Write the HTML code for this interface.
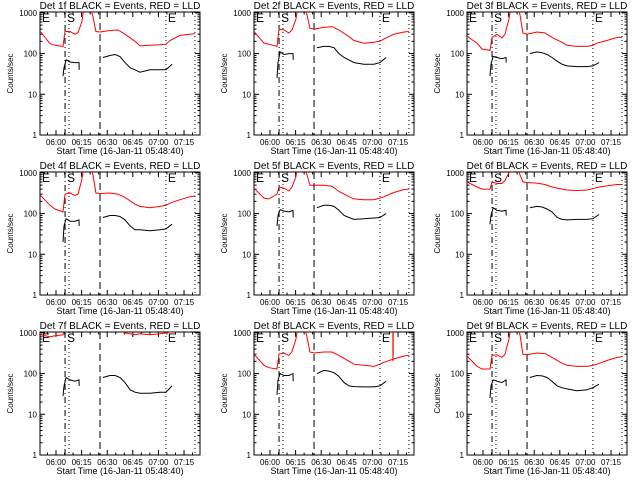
<!DOCTYPE html>
<html><head><meta charset="utf-8"><style>
html,body{margin:0;padding:0;background:#fff;}
svg{display:block;font-family:"Liberation Sans",sans-serif;}
</style></head><body>
<svg id="chart" width="640" height="480" viewBox="0 0 640 480" xmlns="http://www.w3.org/2000/svg">
<rect x="0" y="0" width="640" height="480" fill="#fff"/>
</svg>
<script>
const detNames = ["1f","2f","3f","4f","5f","6f","7f","8f","9f"];
const xTickLabels = ["06:00","06:15","06:30","06:45","07:00","07:15"];
const xTickMinutes = [0,15,30,45,60,75];
const yTickValues = [1,10,100,1000];
const yTickLabels = ["1","10","100","1000"];
const redT = [-9.4,-3.5,-0.6,4.1,5.3,8.2,11.1,12.9,15.2,16.4,19.9,21.7,23.4,25.8,31.6,36.3,40.4,46.3,49.2,55,60.9,64.4,66.8,72.6,78.5,81.4];
const red1 = [360,175,160,150,350,350,300,330,600,1500,1500,800,350,340,370,380,300,200,155,160,165,170,210,280,300,310];
const red2 = [350,180,170,150,400,380,320,380,700,1500,1500,900,420,400,440,460,380,260,210,180,190,200,230,300,340,350];
const red3 = [270,180,130,120,250,300,240,300,700,1500,1500,900,320,300,340,320,250,190,160,150,150,160,180,210,250,250];
const red4 = [290,160,130,110,300,320,280,300,700,1500,1500,900,320,310,320,300,250,170,150,140,150,160,180,220,260,270];
const red5 = [420,240,230,300,450,420,360,450,800,1500,1500,900,500,500,500,470,350,260,230,220,220,240,260,330,390,400];
const red6 = [600,450,400,400,600,550,550,650,1000,1500,1500,900,600,580,560,520,450,400,380,370,380,410,440,480,520,520];
const red7 = [900,800,850,900,1300,1500,1500,1500,1500,1500,1500,1500,1500,1050,1200,1200,1000,900,950,900,950,1000,1050,1100,1200,1200];
const red8 = [300,160,140,130,300,320,280,350,700,1500,1500,800,340,320,340,340,280,200,170,160,150,170,190,230,270,280];
const red9 = [270,150,130,130,280,290,250,300,700,1500,1500,900,300,290,320,310,250,180,160,150,150,160,170,210,250,260];
const blkT1 = [4.1,4.7,5.9,8.2,11.1,13.5,13.6];
const blkT2 = [27.5,31.6,34.6,37.5,40.4,43.4,46.3,49.2,55,60.9,64.4,68];
const blkA1 = [28,45,70,62,60,60,40], blkB1 = [80,90,95,85,60,45,40,35,40,40,40,55];
const blkA2 = [25,60,110,95,100,100,70], blkB2 = [140,150,150,140,100,80,70,60,55,55,60,80];
const blkA3 = [28,55,85,80,75,80,60], blkB3 = [100,110,105,95,80,65,55,50,48,48,50,60];
const blkA4 = [20,50,75,65,65,70,50], blkB4 = [80,90,90,85,70,50,40,40,38,40,42,55];
const blkA5 = [50,90,125,115,110,120,80], blkB5 = [140,160,160,150,120,90,80,72,75,78,80,100];
const blkA6 = [55,90,140,120,115,120,90], blkB6 = [140,150,145,130,110,80,72,70,72,72,75,95];
const blkA7 = [28,50,80,70,65,70,50], blkB7 = [80,90,90,80,60,40,35,33,33,35,35,50];
const blkA8 = [30,70,100,90,90,100,65], blkB8 = [100,120,115,105,85,60,50,48,47,47,50,65];
const blkA9 = [25,50,70,65,60,70,50], blkB9 = [80,90,88,80,65,50,45,42,38,40,45,55];
const spike8T = [72,72,72.2,72.2];
const spike8V = [200,1500,1500,280];
const markerT = [5.3,7.6,25.8,64.4,81.4];
const markerStyle = ["dashdot","dot","dash","dot","dot"];

const redAll=[red1,red2,red3,red4,red5,red6,red7,red8,red9];
const blkA=[blkA1,blkA2,blkA3,blkA4,blkA5,blkA6,blkA7,blkA8,blkA9];
const blkB=[blkB1,blkB2,blkB3,blkB4,blkB5,blkB6,blkB7,blkB8,blkB9];
const NS="http://www.w3.org/2000/svg";
const svg=document.getElementById('chart');
function mk(tag,attrs,parent){const e=document.createElementNS(NS,tag);for(const k in attrs)e.setAttribute(k,attrs[k]);(parent||svg).appendChild(e);return e;}
const lefts=[40,254,467], tops=[12,172,332], W=160, H=123;
for(let i=0;i<9;i++){
  const L=lefts[i%3], T=tops[Math.floor(i/3)], B=T+H;
  const xs=t=>L+16+t*1.707;
  const ys=v=>B-40.7*Math.log10(v);
  const g=mk('g',{});
  
  
  const cp=mk('clipPath',{id:'cp'+i},g);
  mk('rect',{x:L,y:T,width:W,height:H},cp);
  const title=mk('text',{x:L+W/2,y:T-3,'text-anchor':'middle','font-size':'10'},g);
  title.textContent='Det '+detNames[i]+' BLACK = Events, RED = LLD';
  
  
  const frame=mk('rect',{x:L,y:T,width:W,height:H,fill:'none',stroke:'#000','stroke-width':'1'},g);
  
  
  for(let d=0;d<yTickValues.length;d++){
    const v=yTickValues[d], y=ys(v);
    mk('line',{x1:L,x2:L+5,y1:y,y2:y,stroke:'#000'},g);
    mk('line',{x1:L+W,x2:L+W-5,y1:y,y2:y,stroke:'#000'},g);
    const tl=mk('text',{x:L-3,y:y+3,'text-anchor':'end','font-size':'8'},g);
    tl.textContent=yTickLabels[d];
    
    
    if(v<1000){for(let m=2;m<10;m++){const ym=ys(v*m);
      mk('line',{x1:L,x2:L+2.5,y1:ym,y2:ym,stroke:'#000'},g);
      mk('line',{x1:L+W,x2:L+W-2.5,y1:ym,y2:ym,stroke:'#000'},g);}}
  }
  for(let m=-5;m<=80;m+=5){const x=xs(m); if(x<L||x>L+W)continue; const len=(m%15===0)?5:2.5;
    mk('line',{x1:x,x2:x,y1:B,y2:B-len,stroke:'#000'},g);
    mk('line',{x1:x,x2:x,y1:T,y2:T+len,stroke:'#000'},g);}
  for(let k=0;k<xTickLabels.length;k++){
    const tx=mk('text',{x:xs(xTickMinutes[k]),y:B+10,'text-anchor':'middle','font-size':'8'},g);
    tx.textContent=xTickLabels[k];
    
    
  }
  const xt=mk('text',{x:L+W/2,y:B+19,'text-anchor':'middle','font-size':'9'},g);
  xt.textContent='Start Time (16-Jan-11 05:48:40)';
  
  
  const yt=mk('text',{x:0,y:0,'text-anchor':'middle','font-size':'8',transform:'translate('+(L-27)+','+(T+H/2)+') rotate(-90)'},g);
  yt.textContent='Counts/sec';
  
  
  const dashes={dashdot:'6,3,1,3',dot:'1,3',dash:'7,4'};
  for(let k=0;k<markerT.length;k++){const x=xs(markerT[k]);
    const ml=mk('line',{x1:x,x2:x,y1:T,y2:B,stroke:'#000','stroke-dasharray':dashes[markerStyle[k]]},g);
    
    }
  const lbls=[['E',L+2],['S',xs(markerT[0])+2],['E',xs(markerT[3])+2]];
  for(const [s,x] of lbls){const t=mk('text',{x:x,y:T+10,'font-size':'12'},g);t.textContent=s;
    
    }
  const cg=mk('g',{'clip-path':'url(#cp'+i+')'},g);
  const path=(T_,V)=>T_.map((t,j)=>(j?'L':'M')+xs(t).toFixed(1)+' '+ys(V[j]).toFixed(1)).join(' ');
  const rl=mk('path',{d:path(redT,redAll[i]),fill:'none',stroke:'#ff0000','stroke-width':'1'},cg);
  
  
  if(i===7){const sp=mk('path',{d:path(spike8T,spike8V),fill:'none',stroke:'#ff0000'},cg);
    
    }
  const b1=mk('path',{d:path(blkT1,blkA[i]),fill:'none',stroke:'#000'},cg);
  
  
  const b2=mk('path',{d:path(blkT2,blkB[i]),fill:'none',stroke:'#000'},cg);
  
  
}
</script>
</body></html>
